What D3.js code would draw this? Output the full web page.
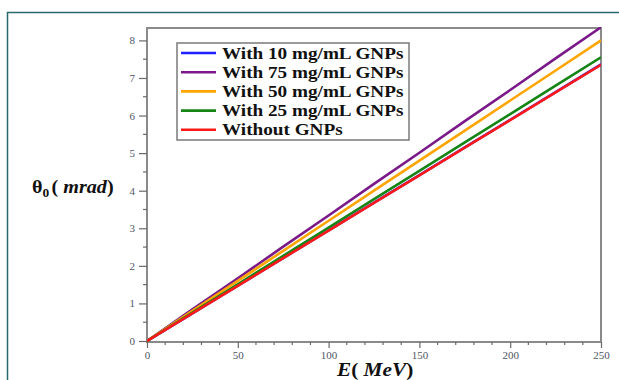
<!DOCTYPE html>
<html><head><meta charset="utf-8">
<script src="https://cdn.jsdelivr.net/npm/d3@7"></script>
<style>body{margin:0;background:#fff}svg{display:block}</style>
</head><body>
<script>
const energies = [0, 25, 50, 75, 100, 125, 150, 175, 200, 225, 250];
const seriesNames = ["With 10 mg/mL GNPs", "With 75 mg/mL GNPs", "With 50 mg/mL GNPs", "With 25 mg/mL GNPs", "Without GNPs"];
const seriesColors = ["#1f1fff", "#7a1a88", "#ffa500", "#168516", "#ff1a1a"];
const with10  = [0, 0.736, 1.472, 2.208, 2.944, 3.68, 4.416, 5.152, 5.888, 6.624, 7.36];
const with75  = [0, 0.84, 1.67, 2.51, 3.34, 4.18, 5.01, 5.85, 6.68, 7.52, 8.35];
const with50  = [0, 0.80, 1.60, 2.40, 3.20, 4.00, 4.80, 5.60, 6.40, 7.20, 8.00];
const with25  = [0, 0.755, 1.51, 2.265, 3.02, 3.775, 4.53, 5.285, 6.04, 6.795, 7.55];
const without = [0, 0.735, 1.47, 2.205, 2.94, 3.675, 4.41, 5.145, 5.88, 6.615, 7.35];
const seriesValues = [with10, with75, with50, with25, without];
const xTicks = [0, 50, 100, 150, 200, 250];
const yTicks = [0, 1, 2, 3, 4, 5, 6, 7, 8];

const W = 619, H = 380;
const svg = d3.select("body").append("svg").attr("width", W).attr("height", H);

// outer teal frame
svg.append("path").attr("d", `M7.5,${H} V12.5 H${W}`).attr("fill", "none")
  .attr("stroke", "#2a6a6e").attr("stroke-width", 1.5);

const L = 147, R = 601, T = 28, B = 342;
const x = d3.scaleLinear().domain([0, 250]).range([L, R]);
const y = d3.scaleLinear().domain([0, 8.33]).range([B - 1, T]);

// plot border
svg.append("rect").attr("x", L).attr("y", T).attr("width", R - L).attr("height", B - T)
  .attr("fill", "none").attr("stroke", "#8a8a8a").attr("stroke-width", 2);

const tickColor = "#6a6a6a";
const tickText = "#4f5566";
// y axis
const yAxis = d3.axisLeft(y).tickValues(yTicks).tickSize(8).tickPadding(4).tickFormat(d3.format("d"));
const gy = svg.append("g").attr("transform", `translate(${L},0)`).call(yAxis);
gy.select(".domain").remove();
gy.selectAll("line").attr("stroke", tickColor).attr("stroke-width", 1.2);
gy.selectAll("text").attr("font-family", "Liberation Serif").attr("font-size", 11).attr("fill", tickText);
const yMinor = d3.range(0.5, 8.4, 1);
svg.append("g").selectAll("line").data(yMinor).join("line")
  .attr("x1", L - 4).attr("x2", L).attr("y1", d => y(d)).attr("y2", d => y(d))
  .attr("stroke", tickColor).attr("stroke-width", 1.2);

// x axis
const xAxis = d3.axisBottom(x).tickValues(xTicks).tickSize(6).tickPadding(3);
const gx = svg.append("g").attr("transform", `translate(0,${B})`).call(xAxis);
gx.select(".domain").remove();
gx.selectAll("line").attr("stroke", tickColor).attr("stroke-width", 1.2);
gx.selectAll("text").attr("font-family", "Liberation Serif").attr("font-size", 11).attr("fill", tickText);
const xMinor = d3.range(10, 250, 10).filter(v => v % 50 !== 0);
svg.append("g").selectAll("line").data(xMinor).join("line")
  .attr("x1", d => x(d)).attr("x2", d => x(d)).attr("y1", B).attr("y2", B + 3)
  .attr("stroke", tickColor).attr("stroke-width", 1.2);

// lines
const line = d3.line().x((d, i) => x(energies[i])).y(d => y(d));
const clipId = "clipPlot";
svg.append("clipPath").attr("id", clipId).append("rect")
  .attr("x", L).attr("y", T - 1).attr("width", R - L).attr("height", B - T + 1);
svg.append("g").attr("clip-path", `url(#${clipId})`).selectAll("path").data(seriesValues).join("path")
  .attr("d", line).attr("fill", "none")
  .attr("stroke", (d, i) => seriesColors[i]).attr("stroke-width", 2.6);

// legend
const lg = svg.append("g");
lg.append("rect").attr("x", 177).attr("y", 43).attr("width", 232).attr("height", 97)
  .attr("fill", "#fff").attr("stroke", "#7a7a7a").attr("stroke-width", 1.5);
seriesNames.forEach((n, i) => {
  const yy = 53 + i * 19.2;
  lg.append("line").attr("x1", 181).attr("x2", 216).attr("y1", yy).attr("y2", yy)
    .attr("stroke", seriesColors[i]).attr("stroke-width", 2.6);
  const t = lg.append("text").attr("x", 0).attr("y", 0).text(n)
    .attr("font-family", "Liberation Serif").attr("font-weight", "bold").attr("font-size", 16)
    .attr("fill", "#111");
  t.attr("transform", `translate(222,${yy + 5.5}) scale(1.2,1)`);
});

// y label
const yl = svg.append("text").attr("transform", "translate(32,193) scale(1.12,1)")
  .attr("font-family", "Liberation Serif").attr("font-weight", "bold").attr("font-size", 18).attr("fill", "#111");
yl.append("tspan").text("θ");
yl.append("tspan").text("0").attr("font-size", 12).attr("dy", 4);
yl.append("tspan").text("(").attr("dy", -4).attr("dx", 2);
yl.append("tspan").text(" mrad").attr("font-style", "italic");
yl.append("tspan").text(")");

// x label
const xl = svg.append("text").attr("transform", "translate(337,376) scale(1.12,1)")
  .attr("font-family", "Liberation Serif").attr("font-weight", "bold").attr("font-size", 19).attr("fill", "#111");
xl.append("tspan").text("E").attr("font-style", "italic");
xl.append("tspan").text("(");
xl.append("tspan").text(" MeV").attr("font-style", "italic");
xl.append("tspan").text(")");
</script>
</body></html>
